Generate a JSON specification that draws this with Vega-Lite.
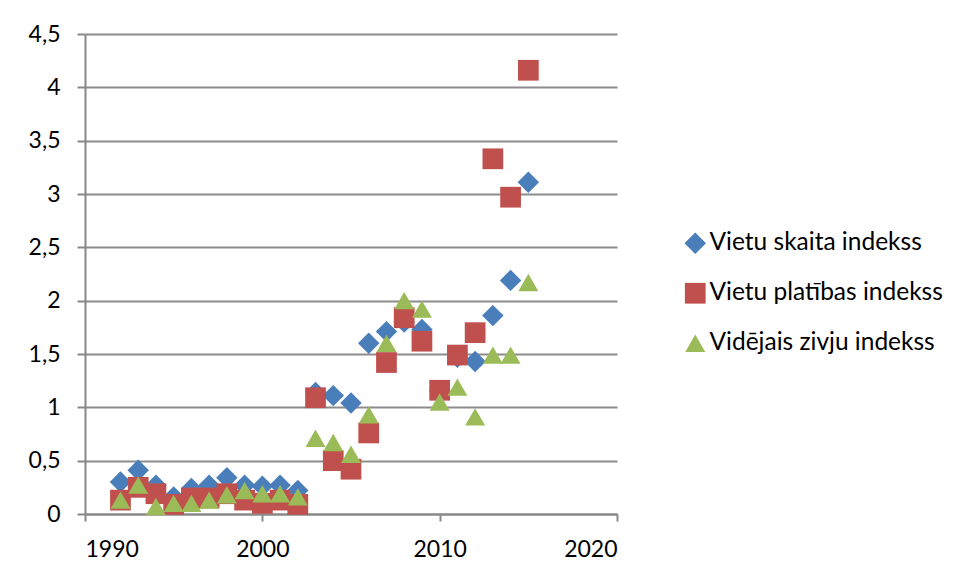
{
  "$schema": "https://vega.github.io/schema/vega-lite/v6.json",
  "width": 532,
  "height": 480,
  "autosize": {"type": "none"},
  "padding": {"left": 85, "top": 34, "right": 343, "bottom": 61},
  "background": "white",
  "config": {
    "view": {"stroke": null},
    "font": "Lato"
  },
  "data": {
    "values": [
      {"year": 1992, "series": "Vietu skaita indekss", "value": 0.30},
      {"year": 1993, "series": "Vietu skaita indekss", "value": 0.41},
      {"year": 1994, "series": "Vietu skaita indekss", "value": 0.27},
      {"year": 1995, "series": "Vietu skaita indekss", "value": 0.16},
      {"year": 1996, "series": "Vietu skaita indekss", "value": 0.24},
      {"year": 1997, "series": "Vietu skaita indekss", "value": 0.27},
      {"year": 1998, "series": "Vietu skaita indekss", "value": 0.34},
      {"year": 1999, "series": "Vietu skaita indekss", "value": 0.27},
      {"year": 2000, "series": "Vietu skaita indekss", "value": 0.26},
      {"year": 2001, "series": "Vietu skaita indekss", "value": 0.27},
      {"year": 2002, "series": "Vietu skaita indekss", "value": 0.22},
      {"year": 2003, "series": "Vietu skaita indekss", "value": 1.14},
      {"year": 2004, "series": "Vietu skaita indekss", "value": 1.11},
      {"year": 2005, "series": "Vietu skaita indekss", "value": 1.04},
      {"year": 2006, "series": "Vietu skaita indekss", "value": 1.60},
      {"year": 2007, "series": "Vietu skaita indekss", "value": 1.71},
      {"year": 2008, "series": "Vietu skaita indekss", "value": 1.80},
      {"year": 2009, "series": "Vietu skaita indekss", "value": 1.73},
      {"year": 2010, "series": "Vietu skaita indekss", "value": 1.15},
      {"year": 2011, "series": "Vietu skaita indekss", "value": 1.47},
      {"year": 2012, "series": "Vietu skaita indekss", "value": 1.43},
      {"year": 2013, "series": "Vietu skaita indekss", "value": 1.86},
      {"year": 2014, "series": "Vietu skaita indekss", "value": 2.19},
      {"year": 2015, "series": "Vietu skaita indekss", "value": 3.11},
      {"year": 1992, "series": "Vietu platības indekss", "value": 0.13},
      {"year": 1993, "series": "Vietu platības indekss", "value": 0.25},
      {"year": 1994, "series": "Vietu platības indekss", "value": 0.19},
      {"year": 1995, "series": "Vietu platības indekss", "value": 0.09},
      {"year": 1996, "series": "Vietu platības indekss", "value": 0.15},
      {"year": 1997, "series": "Vietu platības indekss", "value": 0.15},
      {"year": 1998, "series": "Vietu platības indekss", "value": 0.19},
      {"year": 1999, "series": "Vietu platības indekss", "value": 0.13},
      {"year": 2000, "series": "Vietu platības indekss", "value": 0.10},
      {"year": 2001, "series": "Vietu platības indekss", "value": 0.13},
      {"year": 2002, "series": "Vietu platības indekss", "value": 0.09},
      {"year": 2003, "series": "Vietu platības indekss", "value": 1.09},
      {"year": 2004, "series": "Vietu platības indekss", "value": 0.50},
      {"year": 2005, "series": "Vietu platības indekss", "value": 0.42},
      {"year": 2006, "series": "Vietu platības indekss", "value": 0.76},
      {"year": 2007, "series": "Vietu platības indekss", "value": 1.42},
      {"year": 2008, "series": "Vietu platības indekss", "value": 1.84},
      {"year": 2009, "series": "Vietu platības indekss", "value": 1.62},
      {"year": 2010, "series": "Vietu platības indekss", "value": 1.16},
      {"year": 2011, "series": "Vietu platības indekss", "value": 1.49},
      {"year": 2012, "series": "Vietu platības indekss", "value": 1.70},
      {"year": 2013, "series": "Vietu platības indekss", "value": 3.33},
      {"year": 2014, "series": "Vietu platības indekss", "value": 2.97},
      {"year": 2015, "series": "Vietu platības indekss", "value": 4.16},
      {"year": 1992, "series": "Vidējais zivju indekss", "value": 0.13},
      {"year": 1993, "series": "Vidējais zivju indekss", "value": 0.27},
      {"year": 1994, "series": "Vidējais zivju indekss", "value": 0.07},
      {"year": 1995, "series": "Vidējais zivju indekss", "value": 0.10},
      {"year": 1996, "series": "Vidējais zivju indekss", "value": 0.10},
      {"year": 1997, "series": "Vidējais zivju indekss", "value": 0.13},
      {"year": 1998, "series": "Vidējais zivju indekss", "value": 0.18},
      {"year": 1999, "series": "Vidējais zivju indekss", "value": 0.22},
      {"year": 2000, "series": "Vidējais zivju indekss", "value": 0.19},
      {"year": 2001, "series": "Vidējais zivju indekss", "value": 0.19},
      {"year": 2002, "series": "Vidējais zivju indekss", "value": 0.16},
      {"year": 2003, "series": "Vidējais zivju indekss", "value": 0.71},
      {"year": 2004, "series": "Vidējais zivju indekss", "value": 0.67},
      {"year": 2005, "series": "Vidējais zivju indekss", "value": 0.56},
      {"year": 2006, "series": "Vidējais zivju indekss", "value": 0.93},
      {"year": 2007, "series": "Vidējais zivju indekss", "value": 1.60},
      {"year": 2008, "series": "Vidējais zivju indekss", "value": 2.00},
      {"year": 2009, "series": "Vidējais zivju indekss", "value": 1.92},
      {"year": 2010, "series": "Vidējais zivju indekss", "value": 1.05},
      {"year": 2011, "series": "Vidējais zivju indekss", "value": 1.19},
      {"year": 2012, "series": "Vidējais zivju indekss", "value": 0.91},
      {"year": 2013, "series": "Vidējais zivju indekss", "value": 1.49},
      {"year": 2014, "series": "Vidējais zivju indekss", "value": 1.49},
      {"year": 2015, "series": "Vidējais zivju indekss", "value": 2.17}
    ]
  },
  "mark": {"type": "point", "filled": true, "opacity": 1},
  "encoding": {
    "x": {
      "field": "year", "type": "quantitative",
      "scale": {"domain": [1990, 2020], "nice": false, "zero": false},
      "axis": {
        "title": null, "values": [1990, 2000, 2010, 2020], "format": "d",
        "grid": false, "domainColor": "#888888", "domainWidth": 2,
        "tickColor": "#888888", "tickWidth": 2, "tickSize": 7,
        "labelFont": "Lato", "labelFontSize": 23, "labelColor": "#000000",
        "labelPadding": 17
      }
    },
    "y": {
      "field": "value", "type": "quantitative",
      "scale": {"domain": [0, 4.5], "nice": false},
      "axis": {
        "title": null, "values": [0, 0.5, 1, 1.5, 2, 2.5, 3, 3.5, 4, 4.5],
        "labelExpr": "replace(toString(datum.value), '.', ',')",
        "grid": true, "gridColor": "#8c8c8c", "gridWidth": 2,
        "domainColor": "#888888", "domainWidth": 2,
        "tickColor": "#888888", "tickWidth": 2, "tickSize": 8,
        "labelFont": "Lato", "labelFontSize": 23, "labelColor": "#000000",
        "labelPadding": 17
      }
    },
    "color": {
      "field": "series", "type": "nominal",
      "scale": {
        "domain": ["Vietu skaita indekss", "Vietu platības indekss", "Vidējais zivju indekss"],
        "range": ["#4a7ebb", "#c0504d", "#9bbb59"]
      },
      "legend": {
        "title": null, "orient": "none", "legendX": 598, "legendY": 197,
        "labelFont": "Lato", "labelFontSize": 24.5, "labelColor": "#000000",
        "labelLimit": 340,
        "rowPadding": 25, "symbolSize": 300, "labelOffset": 2
      }
    },
    "shape": {
      "field": "series", "type": "nominal",
      "scale": {
        "domain": ["Vietu skaita indekss", "Vietu platības indekss", "Vidējais zivju indekss"],
        "range": ["diamond", "square", "triangle-up"]
      },
      "legend": null
    },
    "size": {
      "field": "series", "type": "nominal",
      "scale": {
        "domain": ["Vietu skaita indekss", "Vietu platības indekss", "Vidējais zivju indekss"],
        "range": [460, 400, 400]
      },
      "legend": null
    }
  }
}
